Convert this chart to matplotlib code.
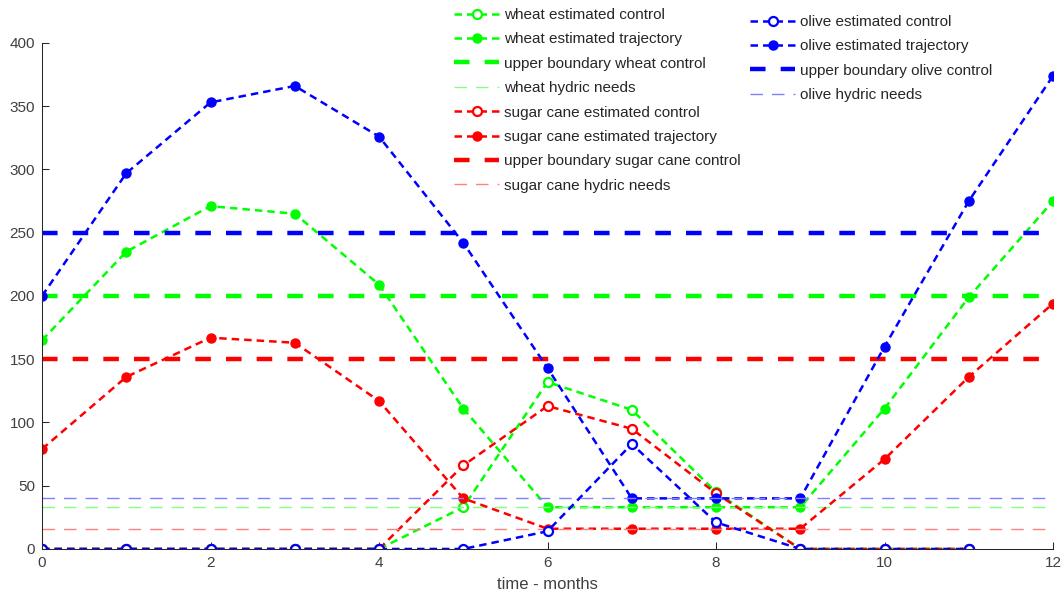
import matplotlib
matplotlib.use("Agg")
import matplotlib.pyplot as plt

plt.rcParams['font.family'] = ['Liberation Sans', 'DejaVu Sans']

# months
t_traj = list(range(13))
t_ctrl = list(range(12))

# wheat
wheat_ctrl = [0, 0, 0, 0, 0, 33, 132, 110, 45, 0, 0, 0]
wheat_traj = [165, 235, 271, 265, 209, 111, 33, 33, 33, 33, 111, 199, 275]
wheat_upper = 200
wheat_needs = 33

# sugar cane
sugar_ctrl = [0, 0, 0, 0, 0, 66, 113, 95, 44, 0, 0, 0]
sugar_traj = [79, 136, 167, 163, 117, 40, 16, 16, 16, 16, 71, 136, 194]
sugar_upper = 150
sugar_needs = 16

# olive
olive_ctrl = [0, 0, 0, 0, 0, 0, 14, 83, 21, 0, 0, 0]
olive_traj = [200, 297, 353, 366, 326, 242, 143, 40, 40, 40, 160, 275, 374]
olive_upper = 250
olive_needs = 40

crops = [
    ("wheat", (0, 1, 0), (0.5, 1, 0.5), wheat_ctrl, wheat_traj, wheat_upper, wheat_needs),
    ("sugar cane", (1, 0, 0), (1, 0.5, 0.5), sugar_ctrl, sugar_traj, sugar_upper, sugar_needs),
    ("olive", (0, 0, 1), (0.5, 0.5, 1), olive_ctrl, olive_traj, olive_upper, olive_needs),
]

fig = plt.figure(figsize=(10.64, 6.03), dpi=100)
ax = fig.add_axes([0.0395, 0.0896, 0.9502, 0.8392])

handles = {}
for name, c, light, ctrl, traj, upper, needs in crops:
    h1, = ax.plot(t_ctrl, ctrl, color=c, lw=1.8, dashes=(3.0, 2.0),
                  marker='o', ms=6.5, mfc='white', mec=c, mew=1.6,
                  label=name + " estimated control")
    h2, = ax.plot(t_traj, traj, color=c, lw=1.8, dashes=(3.0, 2.0),
                  marker='o', ms=6.5, mfc=c, mec=c,
                  label=name + " estimated trajectory")
    h3, = ax.plot([0, 12], [upper, upper], color=c, lw=3.2, dashes=(3.5, 3.4),
                  label="upper boundary " + name + " control")
    h4, = ax.plot([0, 12], [needs, needs], color=light, lw=1.0,
                  dashes=(9, 6.5), label=name + " hydric needs")
    handles[name] = [h1, h2, h3, h4]

ax.set_xlim(0, 12)
ax.set_ylim(0, 400)
ax.set_xticks(range(0, 13, 2))
ax.set_yticks(range(0, 401, 50))
ax.spines['top'].set_visible(False)
ax.spines['right'].set_visible(False)
for s in ['left', 'bottom']:
    ax.spines[s].set_color('#262626')
    ax.spines[s].set_linewidth(0.75)
ax.tick_params(direction='in', length=5, width=0.75, colors='#262626',
               labelcolor='#404040', labelsize=11, pad=5)
ax.set_xlabel("time - months", fontsize=12, color='#404040', labelpad=5)

leg_kw = dict(frameon=False, fontsize=11, handlelength=2.95, handletextpad=0.33,
              labelspacing=0.68, loc='upper left', borderaxespad=0,
              borderpad=0)
l1 = fig.legend(handles=handles["wheat"] + handles["sugar cane"],
                bbox_to_anchor=(454 / 1064, 1 - 8 / 603), **leg_kw)
l2 = fig.legend(handles=handles["olive"],
                bbox_to_anchor=(750 / 1064, 1 - 15 / 603), **leg_kw)
for t in l1.get_texts() + l2.get_texts():
    t.set_color('#262626')

fig.savefig("out.png", dpi=100)
